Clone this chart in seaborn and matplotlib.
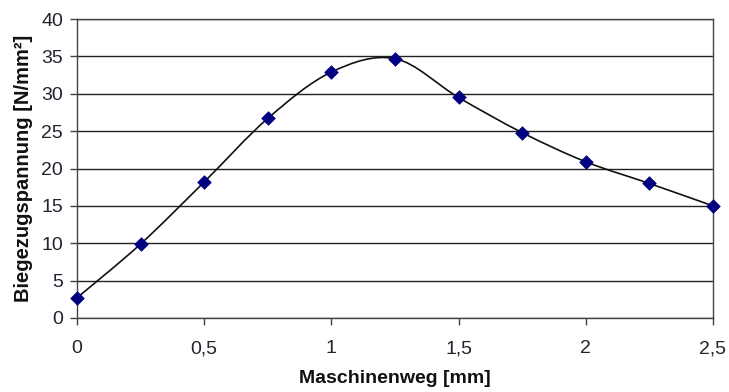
import numpy as np
import pandas as pd
import seaborn as sns
import matplotlib.pyplot as plt
from matplotlib.path import Path
from matplotlib.patches import PathPatch

# Data
weg = [0, 0.25, 0.5, 0.75, 1.0, 1.25, 1.5, 1.75, 2.0, 2.25, 2.5]
spannung = [2.7, 9.9, 18.2, 26.7, 32.9, 34.7, 29.5, 24.8, 20.9, 18.0, 15.0]
x_ticks = [0, 0.5, 1, 1.5, 2, 2.5]
x_tick_labels = ["0", "0,5", "1", "1,5", "2", "2,5"]
y_ticks = [0, 5, 10, 15, 20, 25, 30, 35, 40]

df = pd.DataFrame({"weg": weg, "spannung": spannung})

sns.set_style("white")
plt.rcParams["font.family"] = ["Liberation Sans", "DejaVu Sans"]

fig = plt.figure(figsize=(7.29, 3.92), dpi=100)
ax = fig.add_axes([0.1056, 0.1888, 0.8724, 0.7627])

# Smoothed line like a spreadsheet chart: cubic Bezier through the points
pts = df[["weg", "spannung"]].to_numpy()
verts = [tuple(pts[0])]
codes = [Path.MOVETO]
n = len(pts)
for i in range(n - 1):
    p0 = pts[i - 1] if i > 0 else pts[i]
    p1 = pts[i]
    p2 = pts[i + 1]
    p3 = pts[i + 2] if i + 2 < n else pts[i + 1]
    c1 = p1 + (p2 - p0) / 6.0
    c2 = p2 - (p3 - p1) / 6.0
    verts += [tuple(c1), tuple(c2), tuple(p2)]
    codes += [Path.CURVE4] * 3
ax.add_patch(PathPatch(Path(verts, codes), facecolor="none", edgecolor="#111111", lw=1.2, zorder=3))

sns.scatterplot(data=df, x="weg", y="spannung", marker="D", s=48, color="#000080",
                edgecolor="#000080", linewidth=0.5, ax=ax, zorder=4, clip_on=False)

ax.set_xlim(0, 2.5)
ax.set_ylim(0, 40)
ax.set_xticks(x_ticks)
ax.set_xticklabels(x_tick_labels)
ax.set_yticks(y_ticks)

ax.grid(axis="y", color="#222222", lw=1.0)
ax.set_axisbelow(True)
for side in ["left", "bottom", "right", "top"]:
    ax.spines[side].set_visible(True)
    ax.spines[side].set_color("#444444")
    ax.spines[side].set_linewidth(1.0)

ax.tick_params(axis="both", which="major", direction="out", length=5, width=1,
               color="#444444", labelsize=14, labelcolor="#222230")
ax.tick_params(axis="y", pad=5)
ax.tick_params(axis="x", pad=11)
ax.tick_params(bottom=True, left=True)

ax.set_xlabel("Maschinenweg [mm]", fontsize=14, fontweight="bold", labelpad=9,
              color="#111111")
ax.set_ylabel("Biegezugspannung [N/mm²]", fontsize=14.5, fontweight="bold", labelpad=6,
              color="#111111")

plt.savefig("out.png", dpi=100)
